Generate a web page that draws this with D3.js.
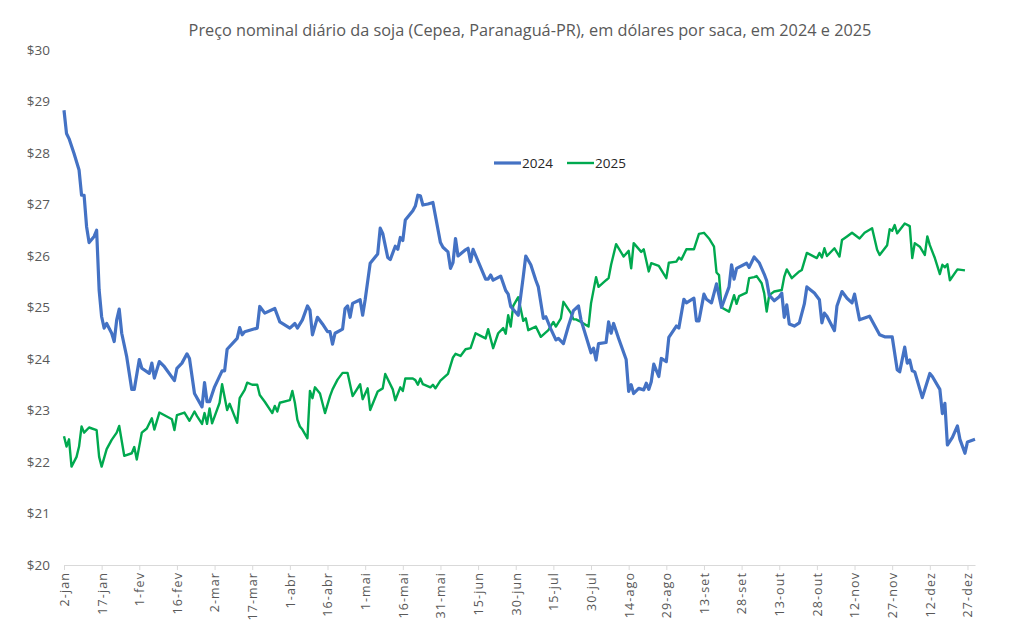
<!DOCTYPE html>
<html><head><meta charset="utf-8">
<script src="https://cdn.jsdelivr.net/npm/d3@7"></script>
<style>body{margin:0;background:#fff;} svg{display:block;}</style>
</head><body>
<svg id="chart" width="1011" height="629"></svg>
<script>
// Day offsets are counted from 2-jan on a 2024-style calendar axis.
const tickLabels = ["2-jan","17-jan","1-fev","16-fev","2-mar","17-mar","1-abr","16-abr","1-mai","16-mai","31-mai","15-jun","30-jun","15-jul","30-jul","14-ago","29-ago","13-set","28-set","13-out","28-out","12-nov","27-nov","12-dez","27-dez"];
const yTicks = [20,21,22,23,24,25,26,27,28,29,30];
const seriesNames = ["2024","2025"];

const day2024 = [0,1,2,4,6,7,8,9,10,12,13,14,15,16,17,19,20,21,22,23,25,27,28,30,31,34,35,36,38,40,44,45,47,49,50,52,55,56,57,58,60,63,64,65,69,70,71,72,77,78,80,84,86,90,92,93,95,97,98,99,101,103,105,106,107,108,111,112,113,114,115,118,119,120,122,125,126,127,129,130,132,133,134,135,136,139,140,141,142,143,145,147,150,151,153,154,155,156,157,160,161,162,163,168,169,170,171,174,176,177,178,181,183,184,186,188,189,191,192,194,196,197,199,201,203,205,206,210,211,212,213,216,217,218,219,221,224,225,226,227,229,231,232,233,234,235,237,238,240,241,244,245,247,248,251,252,253,255,256,258,260,262,265,266,267,268,272,273,275,277,279,280,281,283,285,286,287,288,289,291,293,295,296,299,301,302,303,304,307,308,310,312,314,315,317,321,325,327,330,332,333,335,336,337,338,339,342,345,346,349,350,351,352,354,356,357,359,360,363];
const price2024 = [28.83,28.38,28.28,27.99,27.67,27.18,27.18,26.57,26.26,26.38,26.50,25.34,24.82,24.60,24.69,24.50,24.34,24.76,24.97,24.50,24.04,23.41,23.41,23.99,23.82,23.72,23.92,23.63,23.95,23.85,23.58,23.82,23.92,24.10,24.01,23.33,23.07,23.54,23.17,23.17,23.46,23.77,23.77,24.19,24.40,24.61,24.47,24.53,24.60,25.02,24.89,24.98,24.72,24.60,24.69,24.60,24.76,25.03,24.95,24.47,24.81,24.68,24.53,24.53,24.29,24.50,24.58,24.98,25.03,24.81,25.08,25.15,24.85,25.15,25.86,26.04,26.54,26.44,25.97,25.93,26.19,26.13,26.36,26.30,26.70,26.88,26.97,27.18,27.17,26.99,27.01,27.04,26.26,26.17,26.08,25.76,25.87,26.34,26.00,26.12,26.15,25.89,26.13,25.55,25.55,25.63,25.53,25.61,25.33,25.26,25.02,24.85,25.60,26.00,25.83,25.53,25.40,24.79,24.82,24.58,24.37,24.40,24.30,24.64,24.94,25.03,24.76,24.12,24.21,23.98,24.30,24.32,24.72,24.50,24.69,24.40,23.99,23.37,23.50,23.33,23.43,23.40,23.53,23.41,23.56,23.90,23.66,24.01,23.95,24.42,24.64,24.60,25.16,25.09,25.18,24.74,24.74,25.26,25.16,25.09,25.46,25.00,25.40,25.83,25.55,25.76,25.86,25.78,25.98,25.87,25.65,25.52,25.24,25.13,25.21,25.28,24.81,25.05,24.68,24.64,24.70,25.07,25.40,25.28,25.15,24.70,24.89,24.83,24.55,25.03,25.31,25.18,25.09,25.26,24.76,24.83,24.47,24.43,24.43,23.79,23.75,24.23,23.92,23.98,23.77,23.75,23.25,23.72,23.66,23.41,22.94,23.14,22.33,22.48,22.70,22.44,22.17,22.39,22.44];

const day2025 = [0,1,2,3,5,6,7,8,10,13,14,15,17,19,21,22,24,27,28,29,31,33,35,36,38,43,44,45,48,50,52,53,55,56,57,58,59,62,63,65,66,69,70,72,73,75,77,78,80,83,84,85,86,90,91,92,93,94,95,97,98,99,100,102,104,106,107,109,111,113,115,118,119,121,122,125,127,128,131,132,134,135,136,139,140,141,142,143,146,147,148,150,153,155,156,158,160,162,164,166,168,169,171,173,175,176,177,178,179,181,183,184,185,188,190,193,195,196,198,199,202,203,204,206,209,210,212,213,216,217,218,220,223,225,226,227,230,231,233,234,237,240,241,244,245,246,248,251,253,255,257,259,260,261,262,265,267,268,269,272,273,275,276,278,279,280,281,283,286,287,288,290,293,294,296,300,301,302,303,304,307,309,310,312,314,317,319,322,324,325,328,329,330,331,332,335,337,338,339,341,343,344,345,347,349,350,351,352,353,356,359];
const price2025 = [22.50,22.30,22.44,21.91,22.10,22.30,22.69,22.57,22.67,22.62,22.10,21.91,22.25,22.43,22.57,22.70,22.12,22.17,22.29,22.05,22.57,22.65,22.85,22.63,22.96,22.83,22.62,22.91,22.96,22.80,22.98,22.89,22.74,22.95,22.74,23.04,22.75,23.15,23.51,23.01,23.13,22.76,23.24,23.40,23.54,23.50,23.50,23.30,23.17,22.95,23.09,22.98,23.15,23.20,23.38,23.15,22.82,22.69,22.63,22.46,23.38,23.24,23.45,23.33,22.95,23.28,23.41,23.60,23.73,23.73,23.28,23.51,23.22,23.43,23.01,23.37,23.43,23.71,23.41,23.20,23.45,23.38,23.62,23.62,23.59,23.50,23.62,23.51,23.45,23.50,23.43,23.58,23.71,24.03,24.10,24.06,24.19,24.21,24.50,24.45,24.40,24.58,24.21,24.50,24.60,24.49,24.85,24.63,25.03,25.20,24.74,24.79,24.56,24.63,24.43,24.56,24.72,24.63,24.79,25.11,24.89,24.77,24.77,24.72,24.63,25.08,25.59,25.40,25.53,25.57,25.83,26.23,25.99,26.10,25.76,26.25,26.08,26.13,25.70,25.86,25.81,25.57,25.87,25.89,25.97,25.93,26.13,26.13,26.43,26.45,26.34,26.18,25.68,25.63,25.00,24.92,25.24,25.07,25.22,25.29,25.57,25.59,25.61,25.47,25.28,24.92,25.24,25.31,25.34,25.60,25.74,25.57,25.70,25.73,26.06,25.96,26.06,25.97,26.15,26.00,26.15,25.99,26.31,26.38,26.45,26.34,26.45,26.54,26.12,26.02,26.21,26.52,26.49,26.60,26.44,26.63,26.58,25.96,26.25,26.18,26.02,26.38,26.21,25.96,25.65,25.83,25.78,25.84,25.53,25.74,25.72];

const svg = d3.select("#chart");
const x = d3.scaleLinear().domain([0, 363]).range([64, 975]);
const y = d3.scaleLinear().domain([20, 30]).range([565, 50]);
const FONT = "'Open Sans', 'Liberation Sans', sans-serif";
const GREY = "#595959";

svg.append("text").attr("x", 530).attr("y", 36).attr("text-anchor", "middle")
  .attr("font-family", FONT).attr("font-size", 16.3).attr("fill", GREY)
  .text("Preço nominal diário da soja (Cepea, Paranaguá-PR), em dólares por saca, em 2024 e 2025");

// Y axis (labels only)
const yAxis = d3.axisLeft(y).tickValues(yTicks).tickSize(0).tickPadding(0).tickFormat(d => "$" + d);
const gy = svg.append("g").attr("transform", "translate(50,0)").call(yAxis);
gy.select(".domain").remove();
gy.selectAll("text").attr("font-family", FONT).attr("font-size", 13.5).attr("fill", GREY);

// X axis
const tickDays = tickLabels.map((_, i) => i * 15);
const xAxis = d3.axisBottom(x).tickValues(tickDays).tickSize(5).tickPadding(3)
  .tickFormat((d, i) => tickLabels[i]).tickSizeOuter(0);
const gx = svg.append("g").attr("transform", "translate(0,565)").call(xAxis);
gx.select(".domain").attr("stroke", "#d9d9d9");
gx.selectAll(".tick line").attr("stroke", "#d9d9d9");
gx.selectAll("text").attr("font-family", FONT).attr("font-size", 12.5).attr("fill", GREY)
  .attr("letter-spacing", 1.1)
  .attr("transform", "rotate(-90)").attr("text-anchor", "end")
  .attr("x", -7).attr("y", 0).attr("dy", "0.35em");

const line = d3.line().x(d => x(d[0])).y(d => y(d[1])).curve(d3.curveLinear);
const data2024 = day2024.map((d, i) => [d, price2024[i]]);
const data2025 = day2025.map((d, i) => [d, price2025[i]]);

svg.append("path").datum(data2025).attr("d", line).attr("fill", "none")
  .attr("stroke", "#00A94F").attr("stroke-width", 2.4).attr("stroke-linejoin", "round");
svg.append("path").datum(data2024).attr("d", line).attr("fill", "none")
  .attr("stroke", "#4472C4").attr("stroke-width", 3.2).attr("stroke-linejoin", "round");

// Legend
const legend = [
  {name: seriesNames[0], color: "#4472C4", w: 3.2, x: 494},
  {name: seriesNames[1], color: "#00A94F", w: 2.4, x: 567}
];
legend.forEach(l => {
  svg.append("line").attr("x1", l.x).attr("x2", l.x + 27).attr("y1", 163).attr("y2", 163)
    .attr("stroke", l.color).attr("stroke-width", l.w);
  svg.append("text").attr("x", l.x + 28).attr("y", 168).attr("font-family", FONT)
    .attr("font-size", 13.5).attr("fill", "#262626").text(l.name);
});
</script>
</body></html>
